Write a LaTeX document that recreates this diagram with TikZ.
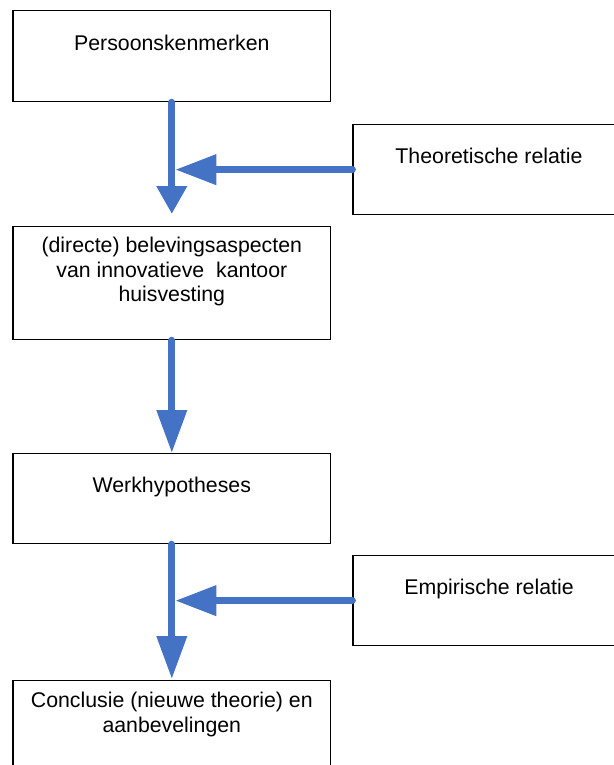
\documentclass[tikz,border=0pt]{standalone}
\usepackage{fontspec}
\setmainfont{Liberation Sans}
\usetikzlibrary{arrows.meta}
\definecolor{blauw}{RGB}{68,114,196}

\begin{document}
\begin{tikzpicture}[
  x=1pt, y=-1pt,
  blok/.style={draw, line width=1.3pt, anchor=north, minimum width=317.8pt, inner xsep=0pt, inner ysep=0pt,
    align=center, font=\fontsize{21.3}{24.6}\selectfont},
  relatie/.style={blok, minimum width=272pt},
  pijl/.style={draw=blauw, line width=7pt, line cap=round, -{Triangle[length=43pt,width=29pt]}}
]
  \useasboundingbox (0,0) rectangle (613,765);

  \node[blok, text height=40pt, text depth=51pt]    (pk) at (171.8,10)  {Persoonskenmerken};
  \node[relatie, text height=39pt, text depth=51pt] (tr) at (489,124)   {Theoretische relatie};
  \node[blok, text height=75pt, text depth=38pt]    (ba) at (171.8,226) {(directe) belevingsaspecten\\van innovatieve\ \ kantoor\\huisvesting};
  \node[blok, text height=39pt, text depth=51pt]    (wh) at (171.8,453) {Werkhypotheses};
  \node[relatie, text height=39pt, text depth=51pt] (er) at (489,555)   {Empirische relatie};
  \node[blok, text height=51.6pt, text depth=38.4pt] (cn) at (171.8,680) {Conclusie (nieuwe theorie) en\\aanbevelingen};

  \draw[pijl, -{Triangle[length=28pt,width=29pt]}, shorten >=12pt] (pk) -- (ba);
  \draw[pijl] (ba) -- (wh);
  \draw[pijl, shorten >=1pt] (wh) -- (cn);

  % relaties komen van rechts
  \draw[pijl, -{Triangle[length=41pt,width=29pt]}, shorten >=3.5pt] (tr.west) -- (tr.west -| pk.south);
  \draw[pijl, -{Triangle[length=41pt,width=29pt]}, shorten >=3.5pt] (er.west) -- (er.west -| wh.south);
\end{tikzpicture}
\end{document}
